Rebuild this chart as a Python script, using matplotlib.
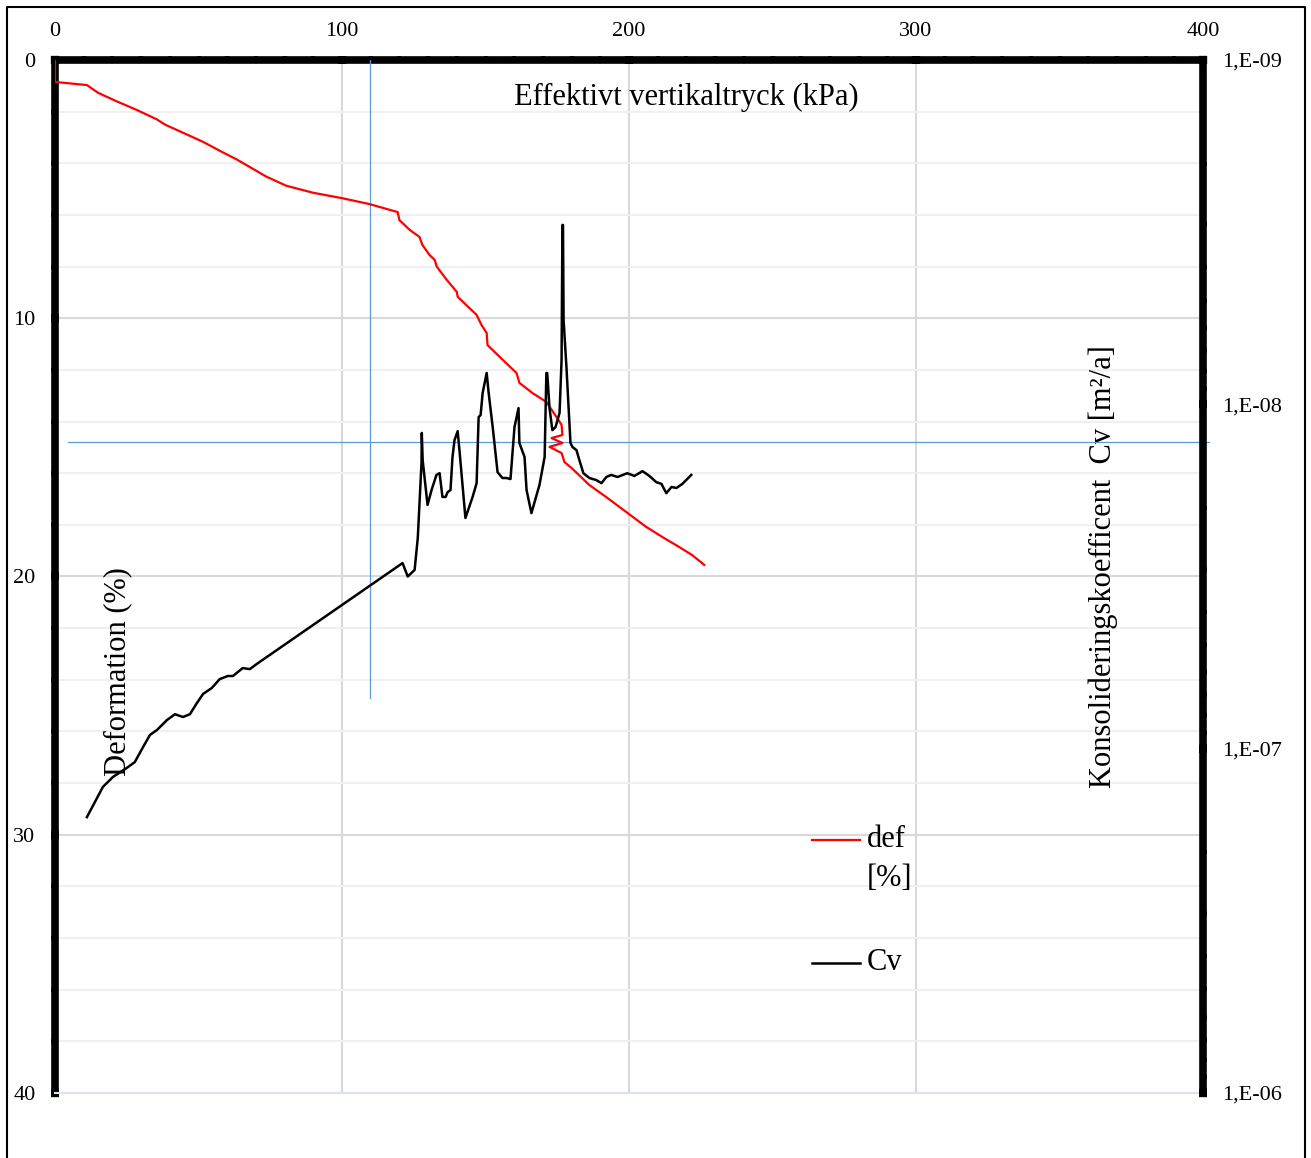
import matplotlib
matplotlib.use("Agg")
import matplotlib.pyplot as plt
import numpy as np
from matplotlib.ticker import MultipleLocator, FixedLocator, FuncFormatter, LogLocator, NullFormatter
from matplotlib.lines import Line2D

plt.rcParams['font.family'] = ['Liberation Serif', 'DejaVu Serif']

# effective vertical stress (kPa) and deformation (%)
def_x = [0, 0, 11.1, 15.0, 21.5, 28.4, 35.5, 38.3, 51.6, 58.0, 63.3, 73.7, 80.6, 89.9, 100.0,
         109.6, 119.4, 120.0, 123.6, 127.0, 128.0, 130.5, 132.3, 133.0, 136.4, 140.0, 140.3,
         146.9, 148.6, 150.4, 150.7, 155.9, 160.8, 161.8, 166.4, 171.2, 174.7, 176.5, 176.8,
         173.0, 176.8, 172.3, 176.5, 177.5, 180.0, 186.2, 192.0, 199.0, 206.0, 211.6, 217.5,
         222.0, 226.2]
def_y = [0, 0.85, 0.97, 1.27, 1.6, 1.93, 2.3, 2.5, 3.17, 3.55, 3.85, 4.52, 4.87, 5.14, 5.35,
         5.58, 5.89, 6.2, 6.58, 6.85, 7.16, 7.55, 7.74, 8.0, 8.5, 8.98, 9.17,
         9.87, 10.26, 10.57, 11.04, 11.6, 12.12, 12.5, 12.9, 13.24, 13.82, 14.13, 14.52,
         14.64, 14.83, 14.98, 15.22, 15.57, 15.8, 16.46, 16.92, 17.5, 18.08, 18.47, 18.86,
         19.17, 19.55]

# consolidation coefficient Cv (log10 of m2/a)
cv_x = [11.1, 16.7, 20.2, 25.0, 27.8, 30.7, 33.1, 35.5, 39.0, 41.8, 44.6, 47.0, 49.4, 51.6,
        54.6, 57.4, 60.2, 62.0, 65.4, 67.9, 70.3, 121.1, 122.9, 125.3, 126.4, 127.7, 127.8,
        128.1, 129.8, 131.2, 132.9, 134.0, 135.0, 136.1, 136.8, 137.8, 138.5, 139.2, 140.3,
        141.0, 143.0, 145.5, 146.9, 147.6, 148.3, 149.0, 150.4, 151.1, 152.5, 154.2, 155.9,
        157.3, 158.7, 160.1, 161.5, 161.8, 163.6, 164.3, 166.0, 168.8, 170.6, 171.2, 171.5,
        172.3, 173.3, 174.4, 175.8, 176.5, 176.8, 177.0, 177.2, 178.2, 179.6, 180.3, 181.7,
        182.7, 184.1, 186.2, 188.6, 190.4, 192.1, 193.8, 196.0, 199.4, 201.9, 204.7, 207.1,
        209.5, 211.3, 213.0, 214.8, 216.5, 218.6, 221.7]
cv_log = [-6.801, -6.889, -6.918, -6.944, -6.961, -7.005, -7.04, -7.054, -7.083, -7.1, -7.092,
          -7.1, -7.132, -7.159, -7.176, -7.202, -7.211, -7.211, -7.234, -7.231, -7.246,
          -7.539, -7.5, -7.519, -7.612, -7.83, -7.917, -7.838, -7.708, -7.751, -7.795, -7.8,
          -7.731, -7.731, -7.745, -7.751, -7.847, -7.896, -7.922, -7.859, -7.67, -7.731,
          -7.771, -7.963, -7.969, -8.033, -8.091, -8.033, -7.934, -7.803, -7.786, -7.786,
          -7.783, -7.934, -7.989, -7.888, -7.847, -7.751, -7.684, -7.766, -7.847, -8.091,
          -8.091, -7.989, -7.925, -7.934, -7.975, -8.129, -8.521, -8.521, -8.245, -8.108,
          -7.888, -7.876, -7.867, -7.838, -7.8, -7.786, -7.78, -7.771, -7.789, -7.795,
          -7.789, -7.8, -7.792, -7.806, -7.792, -7.774, -7.769, -7.742, -7.76, -7.757,
          -7.769, -7.795]
cv = [10 ** v for v in cv_log]
cv_ticks = [1e-9, 1e-8, 1e-7, 1e-6]

# blue reference lines
ref_x = 109.8
ref_y = 14.79

fig = plt.figure(figsize=(13.11, 11.58), dpi=100)
ax = fig.add_axes([0.04195, 0.05613, 0.8757, 0.89206])
ax2 = ax.twinx()

ax.set_xlim(0, 400)
ax.set_ylim(40, 0)
ax2.set_yscale('log')
ax2.set_ylim(1e-6, 1e-9)

ax.plot(def_x, def_y, color='#ff0000', lw=1.6, zorder=5)
ax2.plot(cv_x, cv, color='black', lw=1.8, zorder=5)

ax.plot([ref_x, ref_x], [0, 24.7], color='#5b9bd5', lw=0.9, zorder=4)
ax.plot([4.5, 402], [ref_y, ref_y], color='#5b9bd5', lw=0.9, zorder=4, clip_on=False)

# axes styling
ax.xaxis.tick_top()
ax.xaxis.set_major_locator(MultipleLocator(100))
ax.xaxis.set_minor_locator(MultipleLocator(10))
ax.yaxis.set_major_locator(MultipleLocator(10))
ax.yaxis.set_minor_locator(MultipleLocator(2))
ax.grid(which='major', color='#d9d9d9', lw=1.5)
ax.grid(which='minor', axis='y', color='#f0f0f0', lw=1.5)
ax.set_axisbelow(True)

for s in ['top', 'left']:
    ax.spines[s].set_linewidth(5.5)
ax.spines['right'].set_visible(False)
ax.spines['bottom'].set_color('#dae3f3')
ax.spines['bottom'].set_linewidth(1.5)
for s in ['top', 'left', 'bottom']:
    ax2.spines[s].set_visible(False)
ax2.spines['right'].set_linewidth(5.5)

ax.tick_params(which='major', direction='inout', length=6, width=6, labelsize=16, pad=11)
ax.tick_params(which='minor', direction='out', length=3, width=3)
ax.tick_params(axis='x', which='both', top=True, bottom=False, labeltop=True, labelbottom=False)

ax2.yaxis.set_major_locator(FixedLocator(cv_ticks))
ax2.yaxis.set_minor_locator(LogLocator(base=10, subs=np.arange(2, 10), numticks=10))
ax2.yaxis.set_minor_formatter(NullFormatter())
ax2.yaxis.set_major_formatter(FuncFormatter(lambda v, p: "1,E-%02d" % round(-np.log10(v))))
ax2.tick_params(which='major', direction='inout', length=6, width=6, labelsize=16, pad=11)
ax2.tick_params(which='minor', direction='out', length=3, width=3)

ax.text(0.55, 0.964, "Effektivt vertikaltryck (kPa)", transform=ax.transAxes,
        ha='center', va='center', fontsize=22)
ax.text(0.055, 0.408, "Deformation (%)", transform=ax.transAxes, rotation=90,
        ha='center', va='center', fontsize=22)
ax.text(0.913, 0.51, "Konsolideringskoefficent  Cv [m²/a]", transform=ax.transAxes,
        rotation=90, ha='center', va='center', fontsize=22)

# legend drawn by hand
ax.add_line(Line2D([0.659, 0.701], [0.245, 0.245], color='#ff0000', lw=1.6, transform=ax.transAxes))
ax.add_line(Line2D([0.659, 0.701], [0.126, 0.126], color='black', lw=1.8, transform=ax.transAxes))
ax.text(0.707, 0.245, "def", transform=ax.transAxes, ha='left', va='center', fontsize=22)
ax.text(0.707, 0.208, "[%]", transform=ax.transAxes, ha='left', va='center', fontsize=22)
ax.text(0.707, 0.126, "Cv", transform=ax.transAxes, ha='left', va='center', fontsize=22)

# outer frame
fig.add_artist(Line2D([0.0053, 0.0053, 0.9954, 0.9954], [0.0, 0.994, 0.994, 0.0],
                      color='black', lw=1.5, transform=fig.transFigure))

fig.savefig("out.png", dpi=100)
